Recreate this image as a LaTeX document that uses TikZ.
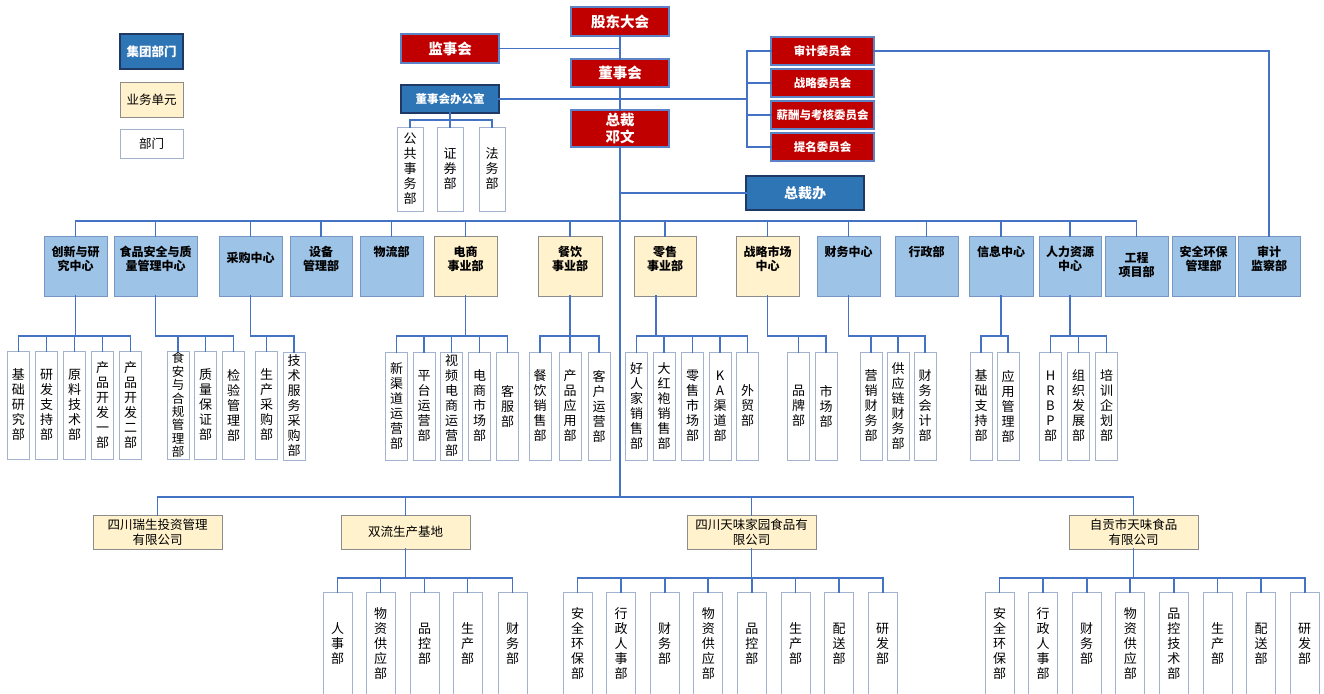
\documentclass[tikz,border=0pt]{standalone}
\usepackage{fontspec}
\setmainfont{Noto Sans CJK SC}
\usetikzlibrary{calc}

\definecolor{linkblue}{HTML}{4472C4}
\definecolor{boardred}{HTML}{C00000}
\definecolor{redframe}{HTML}{5B83C6}
\definecolor{groupblue}{HTML}{2E75B6}
\definecolor{groupframe}{HTML}{1F3864}
\definecolor{deptblue}{HTML}{9DC3E6}
\definecolor{deptframe}{HTML}{7896C4}
\definecolor{unitcream}{HTML}{FFF2CC}
\definecolor{unitframe}{HTML}{8C8C8C}
\definecolor{subframe}{HTML}{A3B3CF}

\tikzset{
  sized/.style 2 args={minimum width=#1,minimum height=#2,inner sep=0pt,outer sep=0pt,align=center},
  boardbox/.style={fill=boardred,draw=redframe,line width=1.2pt,text=white,
    font=\fontsize{14.5}{17}\selectfont\bfseries},
  committee/.style={boardbox,font=\fontsize{11.5}{13}\selectfont\bfseries},
  groupbox/.style={fill=groupblue,draw=groupframe,line width=1.2pt,text=white,
    font=\fontsize{11.5}{13}\selectfont\bfseries},
  deptbox/.style={fill=deptblue,draw=deptframe,line width=0.8pt},
  unitbox/.style={fill=unitcream,draw=unitframe,line width=0.8pt,font=\fontsize{12.5}{15}\selectfont},
  subbox/.style={fill=white,draw=subframe,line width=0.8pt,font=\fontsize{13}{15}\selectfont},
  headtext/.style={font=\fontsize{12}{14}\selectfont\bfseries,align=center,anchor=north,inner sep=0pt},
  link/.style={draw=linkblue,line width=1.8pt,line cap=rect},
}

% parent drop point, child prefix, child count, bus level
\newcommand\famlink[4]{%
  \draw[link] (#1) -- (#1 |- #4);
  \draw[link] (#1 |- #4) -- (#2#3.north |- #4);
  \draw[link] (#21.north |- #4) -- (#2#3.north |- #4);
  \foreach \k in {1,...,#3} \draw[link] (#2\k.north) -- (#2\k.north |- #4);
}

\begin{document}
\begin{tikzpicture}[x=1pt,y=-1pt]
\useasboundingbox (0,0) rectangle (1324,693);
\clip (0,0) rectangle (1324,693);
\fill[white] (0,0) rectangle (1324,693);

% ---------- legend ----------
\node[groupbox,sized={63}{35},font=\fontsize{12.5}{15}\selectfont\bfseries] (lgGroup) at (151.5,51.5) {集团部门};
\node[unitbox,sized={63}{35}] (lgUnit) at (151.5,99.5) {业务单元};
\node[subbox,sized={63}{29},font=\fontsize{12.5}{15}\selectfont] (lgDept) at (151.5,143.5) {部门};

% ---------- governance ----------
\node[boardbox,sized={98}{29}] (gd) at (620,21.5) {股东大会};
\node[boardbox,sized={98}{29}] (js) at (450,48.5) {监事会};
\node[boardbox,sized={98}{28}] (dsh) at (620,73) {董事会};
\node[groupbox,sized={98}{28}] (dsb) at (450,99) {董事会办公室};
\node[boardbox,sized={98}{37}] (zc) at (620,128.5) {总裁\\邓文};
\node[committee,sized={103}{28}] (c1) at (822.5,51) {审计委员会};
\node[committee,sized={103}{28}] (c2) at (822.5,83) {战略委员会};
\node[committee,sized={103}{28}] (c3) at (822.5,115) {薪酬与考核委员会};
\node[committee,sized={103}{28}] (c4) at (822.5,147) {提名委员会};
\node[groupbox,sized={118}{34},font=\fontsize{14}{16}\selectfont\bfseries] (zcb) at (805,193) {总裁办};

% board office departments
\node[subbox,sized={26}{84}] (o1) at (410,169) {公\\共\\事\\务\\部};
\node[subbox,sized={26}{84}] (o2) at (450,169) {证\\券\\部};
\node[subbox,sized={26}{84}] (o3) at (492,169) {法\\务\\部};

% ---------- group departments and business units ----------
\node[deptbox,sized={63}{60}] (r1) at (75.5,266) {};
\node[deptbox,sized={83}{60}] (r2) at (155.5,266) {};
\node[deptbox,sized={63}{60}] (r3) at (250.5,266) {};
\node[deptbox,sized={62}{60}] (r4) at (321,266) {};
\node[deptbox,sized={63}{60}] (r5) at (391.5,266) {};
\node[unitbox,sized={63}{60}] (r6) at (465.5,266) {};
\node[unitbox,sized={64}{60}] (r7) at (570,266) {};
\node[unitbox,sized={62}{60}] (r8) at (665,266) {};
\node[unitbox,sized={63}{60}] (r9) at (767.5,266) {};
\node[deptbox,sized={63}{60}] (r10) at (848.5,266) {};
\node[deptbox,sized={63}{60}] (r11) at (926.5,266) {};
\node[deptbox,sized={64}{60}] (r12) at (1001,266) {};
\node[deptbox,sized={62}{60}] (r13) at (1070,266) {};
\node[deptbox,sized={63}{60}] (r14) at (1136.5,266) {};
\node[deptbox,sized={63}{60}] (r15) at (1203.5,266) {};
\node[deptbox,sized={62}{60}] (r16) at (1269,266) {};

\node[headtext] (r1t) at ($(r1.north)+(0,10)$) {创新与研\\究中心};
\node[headtext] (r2t) at ($(r2.north)+(0,10)$) {食品安全与质\\量管理中心};
\node[headtext] (r3t) at ($(r3.north)+(0,16)$) {采购中心};
\node[headtext] (r4t) at ($(r4.north)+(0,10)$) {设备\\管理部};
\node[headtext] (r5t) at ($(r5.north)+(0,10)$) {物流部};
\node[headtext] (r6t) at ($(r6.north)+(0,10)$) {电商\\事业部};
\node[headtext] (r7t) at ($(r7.north)+(0,10)$) {餐饮\\事业部};
\node[headtext] (r8t) at ($(r8.north)+(0,10)$) {零售\\事业部};
\node[headtext] (r9t) at ($(r9.north)+(0,10)$) {战略市场\\中心};
\node[headtext] (r10t) at ($(r10.north)+(0,10)$) {财务中心};
\node[headtext] (r11t) at ($(r11.north)+(0,10)$) {行政部};
\node[headtext] (r12t) at ($(r12.north)+(0,10)$) {信息中心};
\node[headtext] (r13t) at ($(r13.north)+(0,10)$) {人力资源\\中心};
\node[headtext] (r14t) at ($(r14.north)+(0,16)$) {工程\\项目部};
\node[headtext] (r15t) at ($(r15.north)+(0,10)$) {安全环保\\管理部};
\node[headtext] (r16t) at ($(r16.north)+(0,10)$) {审计\\监察部};

% ---------- departments under each centre ----------
\foreach \x/\t [count=\i] in {18.5/{基\\础\\研\\究\\部},46.5/{研\\发\\支\\持\\部},74.5/{原\\料\\技\\术\\部},
  102.5/{产\\品\\开\\发\\一\\部},130.5/{产\\品\\开\\发\\二\\部}}
  \node[subbox,sized={22}{108}] (a\i) at (\x,405) {\t};
\node[subbox,sized={22}{108},font=\fontsize{12.5}{13.4}\selectfont] (b1) at (178,405) {食\\安\\与\\合\\规\\管\\理\\部};
\node[subbox,sized={22}{108}] (b2) at (205.5,405) {质\\量\\保\\证\\部};
\node[subbox,sized={22}{108}] (b3) at (233.5,405) {检\\验\\管\\理\\部};
\node[subbox,sized={22}{108}] (p1) at (266.5,405) {生\\产\\采\\购\\部};
\node[subbox,sized={22}{108}] (p2) at (294,406) {技\\术\\服\\务\\采\\购\\部};
\foreach \x/\t [count=\i] in {396.5/{新\\渠\\道\\运\\营\\部},424/{平\\台\\运\\营\\部},451.5/{视\\频\\电\\商\\运\\营\\部},
  479.5/{电\\商\\市\\场\\部},507.5/{客\\服\\部}}
  \node[subbox,sized={22}{108}] (e\i) at (\x,406) {\t};
\foreach \x/\t [count=\i] in {540/{餐\\饮\\销\\售\\部},570/{产\\品\\应\\用\\部},599/{客\\户\\运\\营\\部}}
  \node[subbox,sized={22}{108}] (f\i) at (\x,406) {\t};
\foreach \x/\t [count=\i] in {636.5/{好\\人\\家\\销\\售\\部},664/{大\\红\\袍\\销\\售\\部},692.5/{零\\售\\市\\场\\部},
  720/{K\\A\\渠\\道\\部},747.5/{外\\贸\\部}}
  \node[subbox,sized={22}{108}] (g\i) at (\x,406) {\t};
\foreach \x/\t [count=\i] in {798.5/{品\\牌\\部},826/{市\\场\\部}}
  \node[subbox,sized={22}{108}] (m\i) at (\x,406) {\t};
\foreach \x/\t [count=\i] in {871/{营\\销\\财\\务\\部},898/{供\\应\\链\\财\\务\\部},925/{财\\务\\会\\计\\部}}
  \node[subbox,sized={22}{108}] (n\i) at (\x,406) {\t};
\foreach \x/\t [count=\i] in {981/{基\\础\\支\\持\\部},1008/{应\\用\\管\\理\\部}}
  \node[subbox,sized={22}{108}] (i\i) at (\x,406) {\t};
\foreach \x/\t [count=\i] in {1050.5/{H\\R\\B\\P\\部},1078.5/{组\\织\\发\\展\\部},1106.5/{培\\训\\企\\划\\部}}
  \node[subbox,sized={22}{108}] (h\i) at (\x,406) {\t};

% ---------- subsidiaries ----------
\node[unitbox,sized={129}{34}] (s1) at (157.5,532) {四川瑞生投资管理\\有限公司};
\node[unitbox,sized={129}{34}] (s2) at (405.5,532) {双流生产基地};
\node[unitbox,sized={129}{34}] (s3) at (751.5,532) {四川天味家园食品有\\限公司};
\node[unitbox,sized={129}{34}] (s4) at (1133.5,532) {自贡市天味食品\\有限公司};

\foreach \x/\t [count=\i] in {337.5/{人\\事\\部},380.5/{物\\资\\供\\应\\部},424.5/{品\\控\\部},
  467.5/{生\\产\\部},512.5/{财\\务\\部}}
  \node[subbox,sized={29}{104}] (v\i) at (\x,644) {\t};
\foreach \t [count=\i] in {{安\\全\\环\\保\\部},{行\\政\\人\\事\\部},{财\\务\\部},{物\\资\\供\\应\\部},
  {品\\控\\部},{生\\产\\部},{配\\送\\部},{研\\发\\部}}
  \node[subbox,sized={29}{104}] (t\i) at ({577.5+43.6*(\i-1)},644) {\t};
\foreach \t [count=\i] in {{安\\全\\环\\保\\部},{行\\政\\人\\事\\部},{财\\务\\部},{物\\资\\供\\应\\部},
  {品\\控\\技\\术\\部},{生\\产\\部},{配\\送\\部},{研\\发\\部}}
  \node[subbox,sized={29}{104}] (u\i) at ({999.5+43.6*(\i-1)},644) {\t};

% ---------- connectors ----------
\coordinate (cbus) at (747,0);
\coordinate (yMain) at (0,221);
\coordinate (yKid) at (0,336);
\coordinate (yBot) at (0,497);
\coordinate (ySub) at (0,578);
\coordinate (yOff) at (0,120);
\coordinate (r8drop) at (656,296);

% spine of the chart
\draw[link] (gd) -- (dsh);
\draw[link] (dsh) -- (zc);
\draw[link] (zc.south) -- (zc.south |- yBot);
\draw[link] (js.east) -- (js.east -| gd.south);

% board office and committees
\draw[link] (dsb.east) -- (dsb.east -| cbus);
\draw[link] (c1.west -| cbus) -- (c4.west -| cbus);
\foreach \c in {c1,c2,c3,c4} \draw[link] (\c.west) -- (\c.west -| cbus);
\draw[link] (c1.east) -| (r16.north);
\draw[link] (zc.south |- zcb.west) -- (zcb.west);
\famlink{dsb.south}{o}{3}{yOff}

% group departments bus
\draw[link] (r1.north |- yMain) -- (r14.north |- yMain);
\foreach \i in {1,...,14} \draw[link] (r\i.north) -- (r\i.north |- yMain);

% department families
\famlink{r1.south}{a}{5}{yKid}
\famlink{r2.south}{b}{3}{yKid}
\famlink{r3.south}{p}{2}{yKid}
\famlink{r6.south}{e}{5}{yKid}
\famlink{r7.south}{f}{3}{yKid}
\famlink{r8drop}{g}{5}{yKid}
\famlink{r9.south}{m}{2}{yKid}
\famlink{r10.south}{n}{3}{yKid}
\famlink{r12.south}{i}{2}{yKid}
\famlink{r13.south}{h}{3}{yKid}

% subsidiaries
\draw[link] (s1.north |- yBot) -- (s4.north |- yBot);
\foreach \s in {s1,s2,s3,s4} \draw[link] (\s.north) -- (\s.north |- yBot);
\famlink{s2.south}{v}{5}{ySub}
\famlink{s3.south}{t}{8}{ySub}
\famlink{s4.south}{u}{8}{ySub}
\end{tikzpicture}
\end{document}
